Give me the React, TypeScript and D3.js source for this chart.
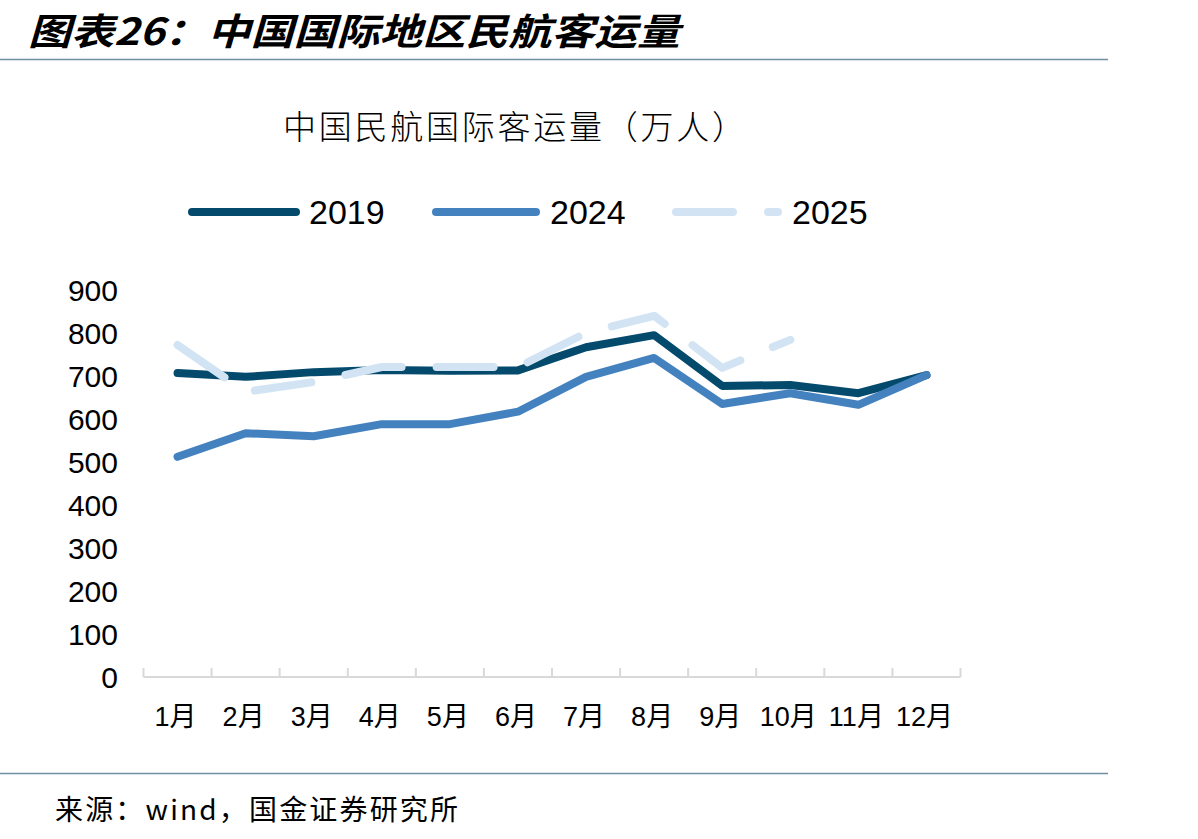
import React from "react";
import * as d3 from "d3";

// data (万人)
const months = ["1月", "2月", "3月", "4月", "5月", "6月", "7月", "8月", "9月", "10月", "11月", "12月"];
const v2019 = [707, 698, 709, 714, 712, 713, 767, 795, 677, 679, 660, 702];
const v2024 = [512, 567, 560, 588, 588, 617, 698, 742, 635, 660, 633, 702];
const v2025 = [772, 663, 686, 721, 721, 721, 800, 840, 719, 784];
const yTicks = [0, 100, 200, 300, 400, 500, 600, 700, 800, 900];

const series = [
  { name: "2019", values: v2019, color: "#034a6d", dash: null },
  { name: "2024", values: v2024, color: "#4482bf", dash: null },
  { name: "2025", values: v2025, color: "#d2e4f3", dash: "57 35" },
];

const W = 1198;
const H = 839;
const left = 143.5;
const right = 960.5;
const top = 290;
const bottom = 677;

const App = () => {
  const x = d3.scaleBand<string>().domain(months).range([left, right]).padding(0);
  const y = d3.scaleLinear().domain([0, 900]).range([bottom, top]);

  const line = d3
    .line<number>()
    .x((_, i) => (x(months[i]) as number) + x.bandwidth() / 2)
    .y((d) => y(d));

  const font = "'Liberation Sans', Arial, 'Noto Sans CJK SC', sans-serif";
  const cjk = "'Noto Sans CJK SC', sans-serif";

  // legend layout (line start, line end, text x)
  const legendPos = [
    [188, 300, 309],
    [432, 540, 550],
    [672, 782, 792],
  ];

  const boundaries = months.map((m) => x(m) as number).concat([right]);

  return (
    <svg
      width={W}
      height={H}
      style={{ position: "absolute", left: 0, top: 0, background: "#fff" }}
    >
      {/* header */}
      <text
        x={28}
        y={45}
        fontFamily={cjk}
        fontSize={37}
        fontWeight="bold"
        fontStyle="italic"
        fill="#000"
        textLength={652}
        lengthAdjust="spacingAndGlyphs"
      >
        图表26：中国国际地区民航客运量
      </text>
      <line x1={0} x2={1108} y1={59.5} y2={59.5} stroke="#6f8fa3" strokeWidth={1.5} />

      {/* chart title */}
      <text
        x={514}
        y={139}
        textAnchor="middle"
        fontFamily={cjk}
        fontSize={33}
        fontWeight={300}
        fill="#000"
        textLength={462}
        lengthAdjust="spacing"
      >
        中国民航国际客运量（万人）
      </text>

      {/* legend */}
      {series.map((s, i) => (
        <g key={s.name}>
          <line
            x1={legendPos[i][0] + 4}
            x2={legendPos[i][1] - 4}
            y1={212}
            y2={212}
            stroke={s.color}
            strokeWidth={8}
            strokeLinecap="round"
            strokeDasharray={s.dash ?? undefined}
          />
          <text
            x={legendPos[i][2]}
            y={212}
            dominantBaseline="central"
            fontFamily={font}
            fontSize={34}
            fill="#000"
          >
            {s.name}
          </text>
        </g>
      ))}

      {/* y axis labels */}
      {yTicks.map((t) => (
        <text
          key={t}
          x={118}
          y={y(t)}
          textAnchor="end"
          dominantBaseline="central"
          fontFamily={font}
          fontSize={30}
          fill="#000"
        >
          {t}
        </text>
      ))}

      {/* x axis */}
      <line x1={left} x2={right} y1={bottom} y2={bottom} stroke="#d9d9d9" strokeWidth={2} />
      {boundaries.map((bx, i) => (
        <line key={i} x1={bx} x2={bx} y1={bottom} y2={bottom - 9} stroke="#d9d9d9" strokeWidth={2} />
      ))}
      {months.map((m) => (
        <text
          key={m}
          x={(x(m) as number) + x.bandwidth() / 2 - 2}
          y={717}
          textAnchor="middle"
          dominantBaseline="central"
          fontFamily={font}
          fontSize={27}
          fill="#000"
        >
          {m}
        </text>
      ))}

      {/* lines */}
      {series.map((s) => (
        <path
          key={s.name}
          d={line(s.values) || ""}
          fill="none"
          stroke={s.color}
          strokeWidth={8}
          strokeLinecap="round"
          strokeLinejoin="round"
          strokeDasharray={s.dash ?? undefined}
        />
      ))}

      {/* source */}
      <text
        x={55}
        y={808}
        dominantBaseline="central"
        fontFamily={cjk}
        fontSize={28}
        fill="#000"
        textLength={403}
        lengthAdjust="spacing"
      >
        来源：wind，国金证券研究所
      </text>
      <line x1={0} x2={1108} y1={773.5} y2={773.5} stroke="#6f8fa3" strokeWidth={1.5} />
    </svg>
  );
};

export default App;
